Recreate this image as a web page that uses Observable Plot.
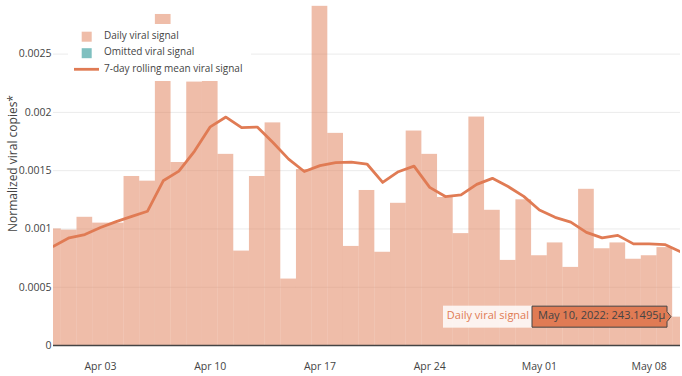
<!DOCTYPE html>
<html>
<head>
<meta charset="utf-8">
<script src="https://cdn.jsdelivr.net/npm/d3@7"></script>
<script src="https://cdn.jsdelivr.net/npm/@observablehq/plot@0.6"></script>
<style>
html, body { margin: 0; padding: 0; background: #fff; }
#chart { width: 682px; height: 376px; font-family: "Open Sans", sans-serif; }
</style>
</head>
<body>
<div id="chart"></div>
<script>
// ---- data ----
const dates = [
  "2022-03-31","2022-04-01","2022-04-02","2022-04-03","2022-04-04","2022-04-05","2022-04-06",
  "2022-04-07","2022-04-08","2022-04-09","2022-04-10","2022-04-11","2022-04-12","2022-04-13",
  "2022-04-14","2022-04-15","2022-04-16","2022-04-17","2022-04-18","2022-04-19","2022-04-20",
  "2022-04-21","2022-04-22","2022-04-23","2022-04-24","2022-04-25","2022-04-26","2022-04-27",
  "2022-04-28","2022-04-29","2022-04-30","2022-05-01","2022-05-02","2022-05-03","2022-05-04",
  "2022-05-05","2022-05-06","2022-05-07","2022-05-08","2022-05-09","2022-05-10"
];
const dailySignal = [
  0.00100, 0.00099, 0.00110, 0.00105, 0.00105, 0.00145, 0.00141,
  0.00284, 0.00157, 0.00226, 0.00255, 0.00164, 0.00081, 0.00145,
  0.00191, 0.00057, 0.00151, 0.00291, 0.00182, 0.00085, 0.00133,
  0.00080, 0.00122, 0.00184, 0.00164, 0.00127, 0.00096, 0.00196,
  0.00116, 0.00073, 0.00125, 0.00077, 0.00088, 0.00067, 0.00134,
  0.00083, 0.00088, 0.00074, 0.00077, 0.00084, 0.0002431495
];
const rollingMean = [
  0.000852, 0.000924, 0.000952, 0.001012, 0.001063, 0.001108, 0.001152,
  0.001413, 0.001496, 0.001668, 0.001876, 0.001960, 0.001869, 0.001874,
  0.001741, 0.001599, 0.001493, 0.001543, 0.001569, 0.001574, 0.001557,
  0.001399, 0.001491, 0.001539, 0.001357, 0.001278, 0.001292, 0.001382,
  0.001434, 0.001364, 0.001279, 0.001162, 0.001100, 0.001059, 0.000971,
  0.000924, 0.000945, 0.000872, 0.000872, 0.000866, 0.000805
];
const xDomain = ["2022-03-31", "2022-05-10"];
const xTickDates = ["2022-04-03","2022-04-10","2022-04-17","2022-04-24","2022-05-01","2022-05-08"];
const xTickLabels = ["Apr 03","Apr 10","Apr 17","Apr 24","May 01","May 08"];
const yTicks = [0, 0.0005, 0.001, 0.0015, 0.002, 0.0025];
const yTickLabels = ["0","0.0005","0.001","0.0015","0.002","0.0025"];
const yMax = 0.00296;
const legendLabels = ["Daily viral signal", "Omitted viral signal", "7-day rolling mean viral signal"];
const yTitle = "Normalized viral copies*";
const hoverName = "Daily viral signal";
const hoverText = "May 10, 2022: 243.1495μ";

// ---- build ----
const parse = d3.utcParse("%Y-%m-%d");
const rows = dates.map((d, i) => ({date: parse(d), daily: dailySignal[i], mean: rollingMean[i]}));
const halfDay = 12 * 3600 * 1000;
const xTickParsed = xTickDates.map(parse);

const plot = Plot.plot({
  width: 682, height: 376,
  marginLeft: 53, marginRight: 2, marginTop: 0, marginBottom: 31,
  style: {fontFamily: '"Open Sans", sans-serif', fontSize: "10.5px", color: "#444", background: "#fff", overflow: "visible"},
  x: {type: "utc", domain: xDomain.map(parse)},
  y: {domain: [0, yMax]},
  marks: [
    Plot.gridY(yTicks.slice(1), {stroke: "#ebebeb", strokeOpacity: 1, strokeWidth: 1}),
    Plot.rectY(rows, {
      x1: d => new Date(+d.date - halfDay),
      x2: d => new Date(+d.date + halfDay),
      y: "daily", fill: "#e07b54", fillOpacity: 0.5, clip: true
    }),
    Plot.ruleY([0], {stroke: "#444", strokeWidth: 1.6}),
    Plot.lineY(rows, {x: "date", y: "mean", stroke: "#e07b54", strokeWidth: 2.8, clip: true}),
    Plot.axisX(xTickParsed, {
      tickSize: 0, tickPadding: 17.5, label: null, fill: "#444",
      tickFormat: d => xTickLabels[xTickParsed.findIndex(t => +t === +d)]
    }),
    Plot.axisY(yTicks, {
      tickSize: 0, tickPadding: 2, label: null, fill: "#444",
      tickFormat: d => yTickLabels[yTicks.indexOf(d)]
    })
  ]
});
document.getElementById("chart").appendChild(plot);

const xs = plot.scale("x"), ys = plot.scale("y");
const svg = d3.select(plot);

// y-axis title
svg.append("text")
  .attr("transform", "translate(17,163.5) rotate(-90)")
  .attr("text-anchor", "middle")
  .attr("fill", "#444")
  .style("font-size", "12px")
  .text(yTitle);

// legend
const lg = svg.append("g").attr("text-anchor", "start");
lg.append("rect").attr("x", 68).attr("y", 24).attr("width", 183).attr("height", 57).attr("fill", "#fff");
lg.append("rect").attr("x", 81.7).attr("y", 31.7).attr("width", 10).attr("height", 10)
  .attr("fill", "#e07b54").attr("fill-opacity", 0.5);
lg.append("rect").attr("x", 81.7).attr("y", 48.2).attr("width", 10).attr("height", 10)
  .attr("fill", "#7fc0c0");
lg.append("line").attr("x1", 74).attr("x2", 99).attr("y1", 69.3).attr("y2", 69.3)
  .attr("stroke", "#e07b54").attr("stroke-width", 2.8);
legendLabels.forEach((t, i) => {
  lg.append("text").attr("x", 104).attr("y", 39 + i * 16.4).attr("text-anchor", "start")
    .attr("fill", "#444").style("font-size", "10px").text(t);
});

// hover label for the last daily value
const last = rows[rows.length - 1];
const tipX = xs.apply(last.date) - 9;
const tipY = ys.apply(last.daily);
const boxR = tipX - 4, boxL = boxR - 135, boxT = tipY - 10.5, boxB = tipY + 10.5;
const hg = svg.append("g");
hg.append("rect").attr("x", boxL - 89).attr("y", boxT - 0.5).attr("width", 89).attr("height", boxB - boxT + 1)
  .attr("fill", "#fff").attr("fill-opacity", 0.82);
hg.append("text").attr("x", boxL - 3).attr("y", tipY + 2.5).attr("text-anchor", "end")
  .attr("fill", "#e07b54").style("font-size", "11px").text(hoverName);
hg.append("path")
  .attr("d", `M${tipX},${tipY} L${boxR},${tipY - 5} L${boxR},${boxT} L${boxL},${boxT} L${boxL},${boxB} L${boxR},${boxB} L${boxR},${tipY + 5} Z`)
  .attr("fill", "#e07b54").attr("stroke", "#444").attr("stroke-width", 1);
hg.append("text").attr("x", boxL + 6).attr("y", tipY + 2.5).attr("text-anchor", "start")
  .attr("fill", "#444").style("font-size", "11px").text(hoverText);
</script>
</body>
</html>
